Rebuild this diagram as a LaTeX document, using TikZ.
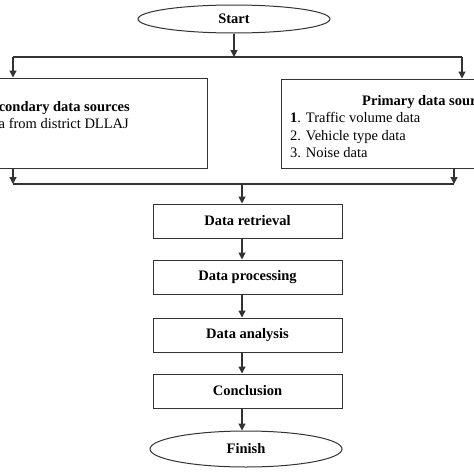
\documentclass[tikz,border=0pt]{standalone}
\usepackage{fontspec}
\setmainfont{Liberation Serif}
\usetikzlibrary{shapes.geometric,arrows.meta}
\begin{document}
\begin{tikzpicture}[x=1pt,y=-1pt,
  every node/.style={font=\fontsize{14.5}{17.3}\selectfont},
  ell/.style={ellipse,draw=black!80,line width=1pt,minimum width=192pt,inner sep=0pt,font=\fontsize{14.5}{17.3}\selectfont\bfseries},
  box/.style={rectangle,draw=black!80,line width=1pt,inner sep=0pt},
  pbox/.style={box,minimum width=189pt,minimum height=34pt,font=\fontsize{14.5}{17.3}\selectfont\bfseries},
  lin/.style={draw=black!80,line width=1.3pt},
  arr/.style={lin,-{Triangle[length=7pt,width=7pt]}},
  txt/.style={inner sep=0pt}]
\useasboundingbox (0,0) rectangle (474,474);
\fill[white] (0,0) rectangle (474,474);
% start
\node[ell,minimum height=28pt] (start) at (234,19) {Start};
% source boxes
\node[box,minimum width=280pt,minimum height=90pt] (sec) at (67,123) {};
\node[box,minimum width=280pt,minimum height=89pt] (pri) at (421,123.5) {};
\node[txt,anchor=base east,font=\fontsize{14.5}{17.3}\selectfont\bfseries] (sect) at (130,111.5) {Secondary data sources};
\node[txt,anchor=base east] (secl) at (129,128) {Data from district DLLAJ};
\node[txt,anchor=base west,font=\fontsize{14.5}{17.3}\selectfont\bfseries] (prit) at (362,105.3) {Primary data sources};
\node[txt,anchor=base west] (pri1) at (290,122.7) {\textbf{1}. Traffic volume data};
\node[txt,anchor=base west] (pri2) at (290,140) {2. Vehicle type data};
\node[txt,anchor=base west] (pri3) at (290,157.3) {3. Noise data};
% process
\node[pbox] (ret) at (247.5,221) {Data retrieval};
\node[pbox] (proc) at (247.5,277) {Data processing};
\node[pbox] (ana) at (247.5,335) {Data analysis};
\node[pbox] (conc) at (247.5,391) {Conclusion};
\node[ell,minimum height=36pt] (fin) at (246,449) {Finish};
% connectors
\coordinate (tl) at (13,57);
\coordinate (tr) at (462,57);
\coordinate (bl) at (13,184);
\coordinate (br) at (454,184);
\draw[arr] (start.south) -- (start.south |- tl);
\draw[lin] (tl) -- (tr);
\draw[arr] (tl) -- (tl |- sec.north);
\draw[arr] (tr) -- (tr |- pri.north);
\draw[arr] (bl |- sec.south) -- (bl);
\draw[arr] (br |- pri.south) -- (br);
\draw[lin] (bl) -- (br);
\draw[arr] ([xshift=-5.5pt]ret.north |- bl) -- ([xshift=-5.5pt]ret.north);
\draw[arr] ([xshift=-5.5pt]ret.south) -- ([xshift=-5.5pt]proc.north);
\draw[arr] ([xshift=-5.5pt]proc.south) -- ([xshift=-5.5pt]ana.north);
\draw[arr] ([xshift=-5.5pt]ana.south) -- ([xshift=-5.5pt]conc.north);
\draw[arr] ([xshift=-5.5pt]conc.south) -- ([xshift=-4pt]fin.north);
\end{tikzpicture}
\end{document}
